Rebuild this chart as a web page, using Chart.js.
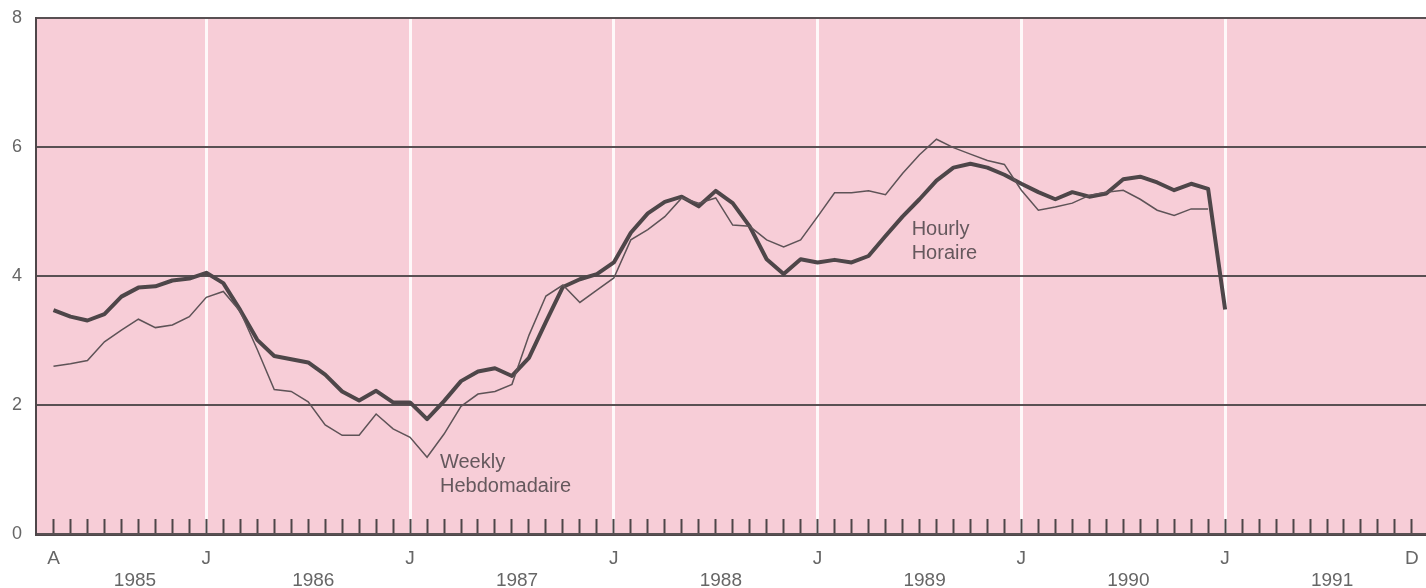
<!DOCTYPE html>
<html lang="en">
<head>
    <meta charset="UTF-8">
    <title>Hourly / Weekly</title>
    <script src="https://cdn.jsdelivr.net/npm/chart.js"></script>
    <style>
        body { margin: 0; background: #fff; overflow: hidden; }
        #wrap { width: 1426px; height: 588px; }
        canvas { display: block; }
    </style>
</head>
<body>
    <div id="wrap"><canvas id="chart"></canvas></div>

    <script>
        // months counted from April 1985 (0) to December 1991 (80)
        const monthLabelAt = [0, 9, 21, 33, 45, 57, 69, 80];
        const monthLabelText = ['A', 'J', 'J', 'J', 'J', 'J', 'J', 'D'];
        const januaries = [9, 21, 33, 45, 57, 69];
        const years = ['1985', '1986', '1987', '1988', '1989', '1990', '1991'];

        // thick line, Apr 1985 .. Jan 1991
        const hourly = [
            3.47, 3.37, 3.31, 3.41, 3.68, 3.82, 3.84, 3.93, 3.96, 4.05,
            3.89, 3.47, 3.01, 2.76, 2.71, 2.66, 2.47, 2.21, 2.07, 2.22,
            2.04, 2.04, 1.78, 2.06, 2.37, 2.52, 2.57, 2.45, 2.73, 3.29,
            3.83, 3.95, 4.03, 4.21, 4.67, 4.97, 5.15, 5.23, 5.08, 5.32,
            5.13, 4.77, 4.26, 4.03, 4.26, 4.21, 4.25, 4.21, 4.31, 4.62,
            4.92, 5.19, 5.48, 5.68, 5.74, 5.68, 5.57, 5.43, 5.30, 5.19,
            5.30, 5.23, 5.28, 5.50, 5.54, 5.45, 5.33, 5.43, 5.35, 3.48
        ];
        // thin line, Apr 1985 .. Dec 1990
        const weekly = [
            2.60, 2.64, 2.69, 2.98, 3.16, 3.33, 3.20, 3.24, 3.37, 3.67,
            3.76, 3.45, 2.86, 2.24, 2.21, 2.05, 1.69, 1.53, 1.53, 1.86,
            1.63, 1.50, 1.19, 1.55, 1.98, 2.17, 2.21, 2.32, 3.08, 3.69,
            3.86, 3.59, 3.78, 3.97, 4.56, 4.72, 4.92, 5.21, 5.13, 5.21,
            4.79, 4.77, 4.56, 4.45, 4.56, 4.92, 5.29, 5.29, 5.32, 5.26,
            5.59, 5.88, 6.12, 5.99, 5.89, 5.79, 5.73, 5.33, 5.02, 5.07,
            5.13, 5.25, 5.30, 5.33, 5.19, 5.02, 4.94, 5.04, 5.04
        ];

        const xMin = -1.03, xMax = 80.83;
        const lastMonth = 80;

        // year labels sit a little right of the middle of each year's months
        const yearCenters = years.map((y, k) => {
            const first = k === 0 ? 0 : januaries[k - 1];
            const last = k < januaries.length ? januaries[k] - 1 : lastMonth;
            return (first + last) / 2 + 0.8;
        });

        const font = 'Liberation Sans, Arial, sans-serif';
        const ink = '#4e4649';
        const labelGrey = '#666';

        const notes = [
            { at: 22.76, y: 1.02, lines: ['Weekly', 'Hebdomadaire'] },
            { at: 50.54, y: 4.63, lines: ['Hourly', 'Horaire'] }
        ];

        // stop the axes from pushing the plot area in for their labels
        const noPad = s => {
            s.paddingTop = 0; s.paddingBottom = 0;
            s.paddingLeft = 0; s.paddingRight = 0;
        };

        const plotBackground = {
            id: 'plotBackground',
            beforeDraw(chart) {
                const { ctx, chartArea: a } = chart;
                ctx.save();
                ctx.fillStyle = '#f7cdd7';
                ctx.fillRect(a.left, a.top, a.right - a.left, a.bottom - a.top);
                ctx.restore();
            }
        };

        const lineNotes = {
            id: 'lineNotes',
            afterDatasetsDraw(chart) {
                const { ctx, scales } = chart;
                ctx.save();
                ctx.font = '20px ' + font;
                ctx.fillStyle = '#65585d';
                ctx.textBaseline = 'alphabetic';
                notes.forEach(n => {
                    const px = scales.x.getPixelForValue(n.at);
                    const py = scales.y.getPixelForValue(n.y);
                    n.lines.forEach((t, k) => ctx.fillText(t, px, py + k * 24));
                });
                ctx.restore();
            }
        };

        new Chart(document.getElementById('chart'), {
            type: 'line',
            data: {
                datasets: [
                    {
                        label: 'Weekly / Hebdomadaire',
                        data: weekly.map((v, i) => ({ x: i, y: v })),
                        borderColor: '#5e5357',
                        borderWidth: 1.5,
                        pointRadius: 0,
                        tension: 0
                    },
                    {
                        label: 'Hourly / Horaire',
                        data: hourly.map((v, i) => ({ x: i, y: v })),
                        borderColor: ink,
                        borderWidth: 4,
                        pointRadius: 0,
                        tension: 0,
                        borderJoinStyle: 'round'
                    }
                ]
            },
            options: {
                responsive: true,
                maintainAspectRatio: false,
                animation: false,
                layout: { padding: { top: 18, left: 0, right: 0, bottom: 0 } },
                plugins: {
                    legend: { display: false },
                    tooltip: { enabled: false }
                },
                scales: {
                    x: {
                        type: 'linear',
                        position: 'bottom',
                        weight: 0,
                        min: xMin,
                        max: xMax,
                        afterBuildTicks: s => {
                            s.ticks = Array.from({ length: lastMonth + 1 }, (_, i) => ({ value: i }));
                        },
                        afterFit: s => { s.height = 32; noPad(s); },
                        ticks: {
                            autoSkip: false,
                            maxRotation: 0,
                            padding: 28,
                            color: labelGrey,
                            font: { family: font, size: 19 },
                            callback: v => {
                                const k = monthLabelAt.indexOf(v);
                                return k >= 0 ? monthLabelText[k] : '';
                            }
                        },
                        grid: {
                            z: -1,
                            drawOnChartArea: true,
                            color: c => (c.tick && januaries.includes(c.tick.value)) ? 'rgba(255,255,255,0.85)' : 'rgba(0,0,0,0)',
                            lineWidth: 3,
                            drawTicks: true,
                            tickLength: -15,
                            tickColor: ink,
                            tickWidth: 2
                        },
                        border: { display: true, color: ink, width: 3 }
                    },
                    xYear: {
                        type: 'linear',
                        position: 'bottom',
                        weight: 1,
                        min: xMin,
                        max: xMax,
                        afterBuildTicks: s => {
                            s.ticks = yearCenters.map(v => ({ value: v }));
                        },
                        afterFit: s => { s.height = 22; noPad(s); },
                        ticks: {
                            autoSkip: false,
                            maxRotation: 0,
                            padding: 3,
                            color: labelGrey,
                            font: { family: font, size: 19 },
                            callback: (v, i) => years[i]
                        },
                        grid: { display: false, drawTicks: false },
                        border: { display: false }
                    },
                    y: {
                        min: 0,
                        max: 8,
                        afterFit: s => { s.width = 36; noPad(s); },
                        ticks: {
                            stepSize: 2,
                            padding: 14,
                            color: labelGrey,
                            font: { family: font, size: 18 }
                        },
                        grid: {
                            z: 0,
                            color: '#595053',
                            lineWidth: 2,
                            drawTicks: false
                        },
                        border: { display: true, color: ink, width: 2 }
                    }
                }
            },
            plugins: [plotBackground, lineNotes]
        });
    </script>
</body>
</html>
